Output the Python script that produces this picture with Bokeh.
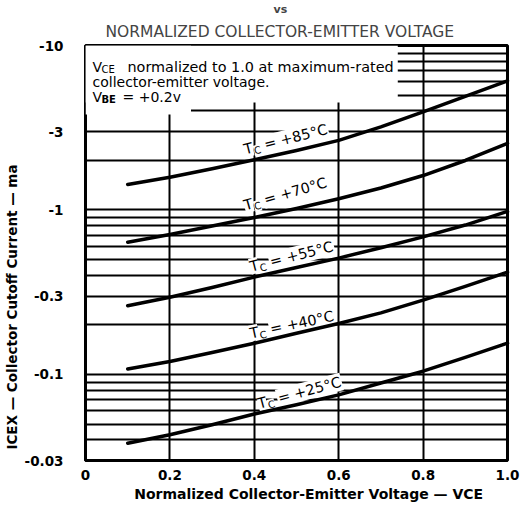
import math
from bokeh.plotting import figure
from bokeh.models import Label, FixedTicker, Title, Range1d, BoxAnnotation
from bokeh.embed import file_html
from bokeh.resources import INLINE

# ---- data ----
vce = [0.1, 0.2, 0.3, 0.4, 0.5, 0.6, 0.7, 0.8, 0.9, 1.0]
i_85 = [1.43, 1.58, 1.78, 2.02, 2.30, 2.65, 3.20, 3.95, 4.9, 6.1]
i_70 = [0.637, 0.71, 0.80, 0.90, 1.02, 1.17, 1.36, 1.62, 2.0, 2.54]
i_55 = [0.262, 0.295, 0.338, 0.391, 0.447, 0.51, 0.59, 0.686, 0.81, 0.98]
i_40 = [0.108, 0.12, 0.136, 0.155, 0.178, 0.204, 0.237, 0.283, 0.343, 0.419]
i_25 = [0.0382, 0.043, 0.0495, 0.0575, 0.0654, 0.0752, 0.0887, 0.1047, 0.127, 0.155]
series = [i_85, i_70, i_55, i_40, i_25]
temps = ["+85°C", "+70°C", "+55°C", "+40°C", "+25°C"]

y_ticks = [0.03, 0.1, 0.3, 1, 3, 10]
y_tick_labels = ["-0.03", "-0.1", "-0.3", "-1", "-3", "-10"]
x_ticks = [0, 0.2, 0.4, 0.6, 0.8, 1.0]
x_tick_labels = ["0", "0.2", "0.4", "0.6", "0.8", "1.0"]
x_grid = [0.2, 0.4, 0.6, 0.8]
y_grid = [0.04, 0.05, 0.06, 0.07, 0.08, 0.09, 0.1, 0.2, 0.3, 0.4, 0.5, 0.6,
          0.7, 0.8, 0.9, 1, 2, 3, 4, 5, 6, 7, 8, 9]

# curve-label anchor points (just after the "T") and angles (deg)
lab_x = [0.396, 0.396, 0.41, 0.41, 0.429]
lab_y = [2.40, 1.10, 0.465, 0.182, 0.0685]
lab_ang = [14, 16, 14, 12, 15]

FONT = "DejaVu Sans"
NBSP = "\u00a0"

p = figure(frame_width=422, frame_height=415, y_axis_type="log",
           x_range=Range1d(0, 1.0), y_range=Range1d(0.03, 10),
           output_backend="svg", toolbar_location=None,
           min_border_left=80, min_border_right=14,
           min_border_top=37, min_border_bottom=40)
p.background_fill_color = "white"
p.border_fill_color = "white"
p.outline_line_color = "black"
p.outline_line_width = 3

# titles: p.title is outermost
p.title.text = "vs"
p.title.align = "left"
p.title.offset = 188
p.title.text_font = FONT
p.title.text_font_size = "11px"
p.title.text_font_style = "bold"
p.title.standoff = 1
p.add_layout(Title(text="NORMALIZED COLLECTOR-EMITTER VOLTAGE", align="left",
                   offset=20, text_font=FONT, text_font_size="15.5px",
                   text_font_style="normal", standoff=9), "above")

# axes
for ax in (p.xaxis[0], p.yaxis[0]):
    ax.axis_line_color = "black"
    ax.axis_line_width = 3
    ax.major_tick_line_color = None
    ax.minor_tick_line_color = None
    ax.major_label_text_font = FONT
    ax.major_label_text_font_style = "bold"
    ax.major_label_text_font_size = "13.5px"
    ax.major_label_text_color = "black"
    ax.axis_label_text_font = FONT
    ax.axis_label_text_font_style = "bold"
    ax.axis_label_text_color = "black"
p.xaxis.ticker = FixedTicker(ticks=x_ticks)
p.xaxis.major_label_overrides = {t: s for t, s in zip(x_ticks, x_tick_labels)}
p.xaxis.major_label_standoff = 3
p.xaxis.axis_label = NBSP * 5 + "Normalized Collector-Emitter Voltage — VCE"
p.xaxis.axis_label_text_font_size = "14px"
p.xaxis.axis_label_standoff = 3
p.yaxis.ticker = FixedTicker(ticks=y_ticks)
p.yaxis.major_label_overrides = {t: s for t, s in zip(y_ticks, y_tick_labels)}
p.yaxis.major_label_standoff = 16
p.yaxis.axis_label = "ICEX — Collector Cutoff Current — ma" + " " * 23
p.yaxis.axis_label_text_font_size = "13.5px"
p.yaxis.axis_label_standoff = 2

# grids
p.xgrid.ticker = FixedTicker(ticks=x_grid)
p.ygrid.ticker = FixedTicker(ticks=y_grid)
for g in (p.xgrid[0], p.ygrid[0]):
    g.grid_line_color = "black"
    g.grid_line_width = 2
    g.grid_line_alpha = 1.0
    g.minor_grid_line_color = None

# white area behind the note in the top-left corner
p.add_layout(BoxAnnotation(left=0, right=0.74, bottom=4.5, top=10,
                           fill_color="white", fill_alpha=1.0, line_color=None))
p.add_layout(BoxAnnotation(left=0, right=0.25, bottom=3.8, top=10,
                           fill_color="white", fill_alpha=1.0, line_color=None))

note = dict(x=0, y=10, text_font=FONT, text_font_size="14px",
            text_color="black", text_align="left", text_baseline="alphabetic")
sub = dict(x=0, y=10, text_font=FONT, text_font_size="10px",
           text_color="black", text_align="left", text_baseline="alphabetic")
p.add_layout(Label(text="V", x_offset=7, y_offset=-21, **note))
p.add_layout(Label(text="CE", x_offset=16, y_offset=-24, **sub))
p.add_layout(Label(text="normalized to 1.0 at maximum-rated", x_offset=42,
                   y_offset=-21, text_font_size="14.4px",
                   **{k: v for k, v in note.items() if k != "text_font_size"}))
p.add_layout(Label(text="collector-emitter voltage.", x_offset=7,
                   y_offset=-36, **note))
p.add_layout(Label(text="V", x_offset=7, y_offset=-51, **note))
p.add_layout(Label(text="BE", x_offset=16, y_offset=-54, text_font_style="bold",
                   **sub))
p.add_layout(Label(text="= +0.2v", x_offset=37, y_offset=-51, **note))

# curve labels  T_C = +xx°C (white backing hides grid lines)
for x, y, a, t in zip(lab_x, lab_y, lab_ang, temps):
    th = math.radians(a)
    common = dict(x=x, y=y, angle=th, text_font=FONT, text_color="black",
                  background_fill_color="white", text_baseline="alphabetic")
    p.add_layout(Label(text="T", text_align="right", text_font_size="14.5px",
                       padding=0, **common))
    d, a1 = 4, 0.5
    p.add_layout(Label(text="C", text_align="left", text_font_size="10px",
                       x_offset=math.cos(th) * a1 + math.sin(th) * d,
                       y_offset=math.sin(th) * a1 - math.cos(th) * d,
                       padding=0, **common))
    s = 11
    p.add_layout(Label(text="= " + t, text_align="left", text_font_size="14.5px",
                       x_offset=math.cos(th) * s, y_offset=math.sin(th) * s,
                       padding=1, **common))

# curves drawn last so the label backings never cut them
for s in series:
    p.line(vce, s, line_color="black", line_width=3.5, line_join="round",
           line_cap="round", level="overlay")

open("out.html", "w").write(file_html(p, INLINE))
